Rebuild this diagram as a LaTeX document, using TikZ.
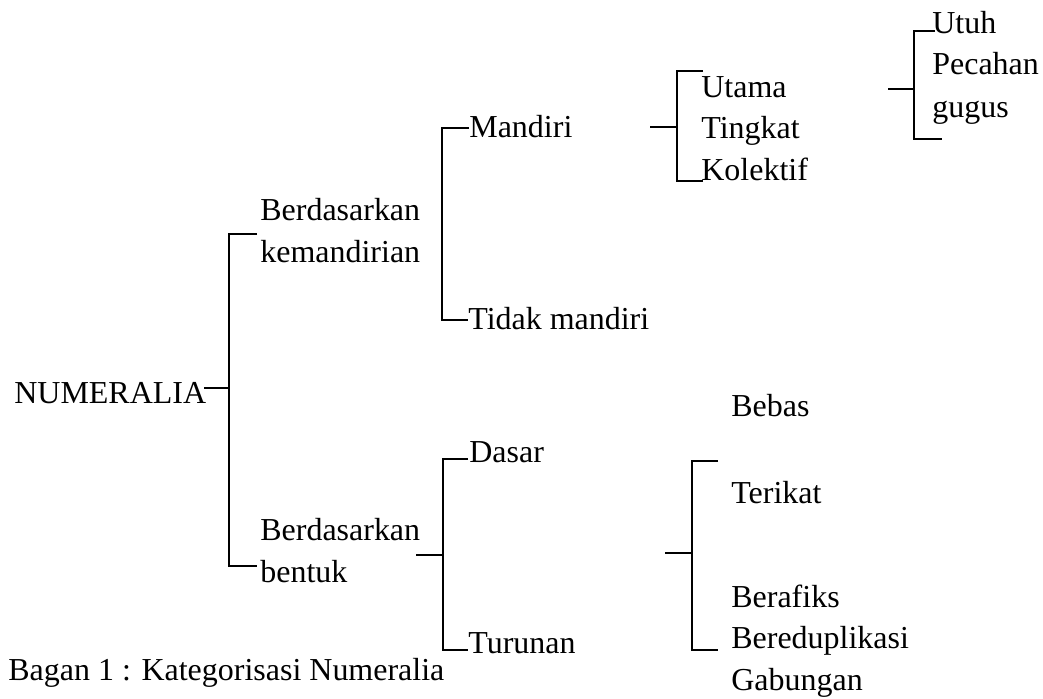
\documentclass[tikz,border=0pt]{standalone}
\usepackage{fontspec}
\setmainfont{LiberationSerif}[Extension=.ttf,UprightFont=*-Regular]
\begin{document}
\begin{tikzpicture}[x=0.02cm,y=-0.02cm]
    \tikzstyle{every node}+=[inner sep=0pt,anchor=base west,font=\fontsize{18.2}{22}\selectfont]
    \tikzstyle{branch}=[black,line width=1.1pt]
    \useasboundingbox (0,0) rectangle (1043,698);
    % labels
    \node (num) at (14,403) {NUMERALIA};
    \node (bk1) at (260,220) {Berdasarkan};
    \node (bk2) at (260,262) {kemandirian};
    \node (bb1) at (260,540) {Berdasarkan};
    \node (bb2) at (260,582) {bentuk};
    \node (mandiri) at (469,137) {Mandiri};
    \node (tidak) at (468,329) {Tidak mandiri};
    \node (utama) at (701,97) {Utama};
    \node (tingkat) at (701,138) {Tingkat};
    \node (kolektif) at (701,180) {Kolektif};
    \node (utuh) at (932,33) {Utuh};
    \node (pecahan) at (932,74) {Pecahan};
    \node (gugus) at (932,117) {gugus};
    \node (dasar) at (469,462) {Dasar};
    \node (turunan) at (468,653) {Turunan};
    \node (bebas) at (731,416) {Bebas};
    \node (terikat) at (731,503) {Terikat};
    \node (berafiks) at (731,607) {Berafiks};
    \node (redup) at (731,648) {Bereduplikasi};
    \node (gabungan) at (731,690) {Gabungan};
    \node (caption) at (8,680) {Bagan 1 : Kategorisasi Numeralia};
    % bracket joints
    \coordinate (n0) at (204,388);
    \coordinate (n1) at (229,388);
    \coordinate (nt) at (257,234);
    \coordinate (nb) at (257,566);
    \coordinate (mt) at (469,128);
    \coordinate (mb) at (468,320);
    \coordinate (m0) at (442,128);
    \coordinate (u0) at (650,127);
    \coordinate (u1) at (677,127);
    \coordinate (ut) at (703,71);
    \coordinate (ub) at (703,181);
    \coordinate (p0) at (888,89);
    \coordinate (p1) at (914,89);
    \coordinate (pt) at (935,31);
    \coordinate (pb) at (942,139);
    \coordinate (d0) at (416,555);
    \coordinate (d1) at (443,555);
    \coordinate (dt) at (468,459);
    \coordinate (db) at (468,650);
    \coordinate (b0) at (665,553);
    \coordinate (b1) at (692,553);
    \coordinate (bt) at (718,461);
    \coordinate (bb) at (718,650);
    % brackets
    \draw [branch] (n0) -- (n1);
    \draw [branch] (nt) -| (n1) |- (nb);
    \draw [branch] (mt) -| (m0) |- (mb);
    \draw [branch] (u0) -- (u1);
    \draw [branch] (ut) -| (u1) |- (ub);
    \draw [branch] (p0) -- (p1);
    \draw [branch] (pt) -| (p1) |- (pb);
    \draw [branch] (d0) -- (d1);
    \draw [branch] (dt) -| (d1) |- (db);
    \draw [branch] (b0) -- (b1);
    \draw [branch] (bt) -| (b1) |- (bb);
\end{tikzpicture}
\end{document}
